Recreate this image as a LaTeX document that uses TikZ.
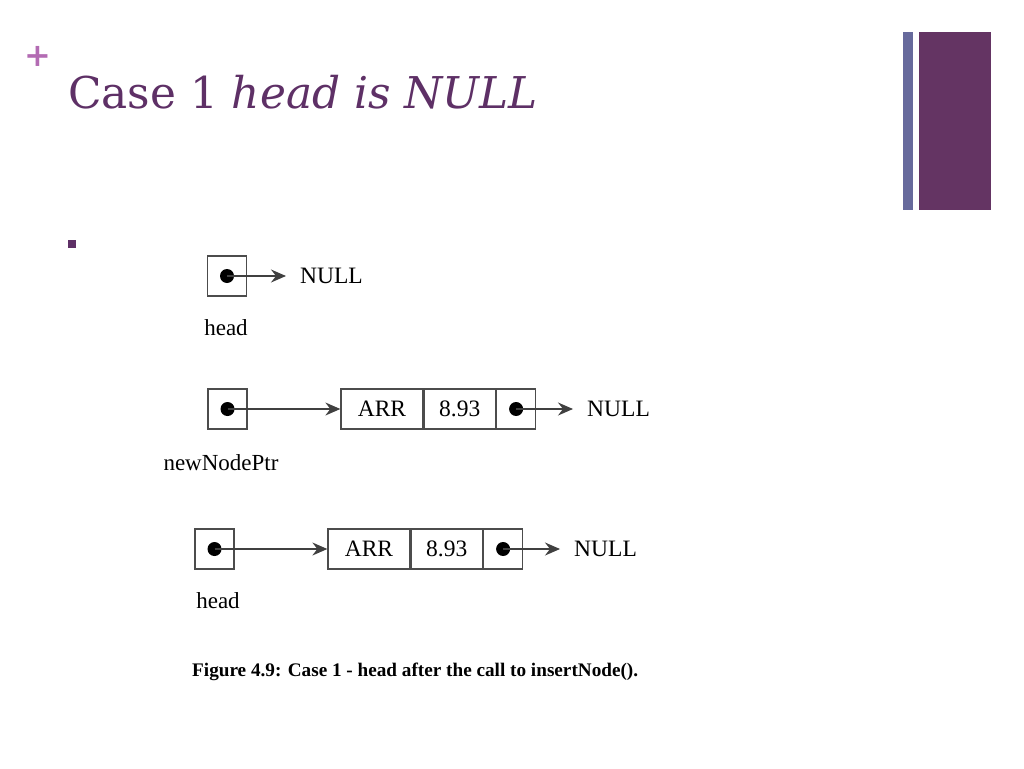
\documentclass[tikz,border=0pt]{standalone}
\usepackage{fontspec}
\setmainfont{Liberation Serif}
\newfontfamily\titlefont{DejaVu Serif}
\usetikzlibrary{positioning,arrows.meta}
\definecolor{slidepurple}{HTML}{5E3066}
\definecolor{plumbar}{HTML}{643463}
\definecolor{bluebar}{HTML}{676A9C}
\definecolor{pluspink}{HTML}{B36BB3}

\begin{document}
\begin{tikzpicture}[x=1pt,y=-1pt,
  cell/.style={draw=black!70,line width=1.3pt,minimum height=40pt,inner sep=0pt,font=\fontsize{23.5}{26}\selectfont},
  ptrbox/.style={cell,minimum width=39pt},
  dot/.style={circle,fill=black,inner sep=0pt,minimum size=14pt},
  nullptr/.style={inner xsep=14pt,inner ysep=0pt,font=\fontsize{23.5}{26}\selectfont},
  varname/.style={font=\fontsize{23}{26}\selectfont},
  link/.style={draw=black!75,line width=1.2pt,-{Stealth[length=15pt,width=13pt,inset=5pt]}},
  node distance=0pt]
\useasboundingbox (0,0) rectangle (1024,768);
\fill[white] (0,0) rectangle (1024,768);

% slide decoration
\fill[bluebar] (903,32) rectangle (913,210);
\fill[plumbar] (919,32) rectangle (991,210);
\node[text=pluspink,font=\titlefont\bfseries\fontsize{32}{32}\selectfont] (plus) at (38,56) {+};
\node[anchor=base west,inner sep=0pt,text=slidepurple,font=\titlefont\fontsize{43.8}{50}\selectfont]
  (title) at (68,108) {Case 1 \textit{head is NULL}};
\fill[slidepurple] (68,240) rectangle (76,248);

% head is NULL
\node[ptrbox] (headA) at (227,276) {};
\node[dot] (headAdot) at (headA.center) {};
\node[nullptr,anchor=west] (nullA) at (286,276) {NULL};
\draw[link] (headAdot.center) -- (nullA.west);
\node[varname] (headAlbl) at (226,328) {head};

% newNodePtr -> new node
\node[ptrbox] (newptr) at (227.5,409) {};
\node[dot] (newptrdot) at (newptr.center) {};
\node[cell,minimum width=82pt] (nameB) at (382,409) {ARR};
\node[cell,minimum width=71pt,right=of nameB] (valB) {8.93};
\node[ptrbox,right=of valB] (nextB) {};
\node[dot] (nextBdot) at (nextB.center) {};
\node[nullptr,anchor=west] (nullB) at (573,409) {NULL};
\draw[link] (newptrdot.center) -- (nameB.west);
\draw[link] (nextBdot.center) -- (nullB.west);
\node[varname] (newptrlbl) at (221,463) {newNodePtr};

% head after insertNode()
\node[ptrbox] (headC) at (214.5,549) {};
\node[dot] (headCdot) at (headC.center) {};
\node[cell,minimum width=82pt] (nameC) at (369,549) {ARR};
\node[cell,minimum width=71pt,right=of nameC] (valC) {8.93};
\node[ptrbox,right=of valC] (nextC) {};
\node[dot] (nextCdot) at (nextC.center) {};
\node[nullptr,anchor=west] (nullC) at (560,549) {NULL};
\draw[link] (headCdot.center) -- (nameC.west);
\draw[link] (nextCdot.center) -- (nullC.west);
\node[varname] (headClbl) at (218,601) {head};

\node[anchor=base west,inner sep=0pt,font=\bfseries\fontsize{19.2}{22}\selectfont]
  (caption) at (192,676) {Figure 4.9: Case 1 - head after the call to insertNode().};
\end{tikzpicture}
\end{document}
